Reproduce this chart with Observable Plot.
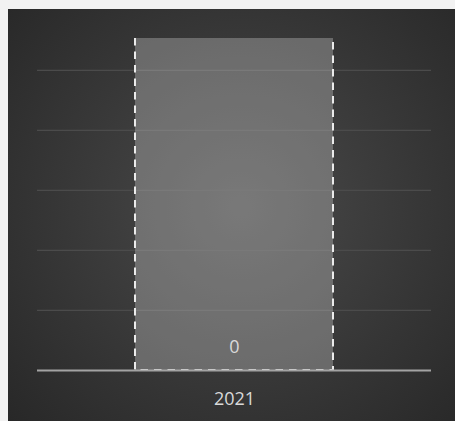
<!DOCTYPE html>
<html>
<head>
<meta charset="utf-8">
<script src="https://cdn.jsdelivr.net/npm/d3@7"></script>
<script src="https://cdn.jsdelivr.net/npm/@observablehq/plot@0.6"></script>
<style>
  html, body { margin: 0; padding: 0; background: #f2f2f2; }
  body { width: 455px; height: 421px; position: relative; overflow: hidden; }
  #panel {
    position: absolute; left: 8px; top: 9px; width: 447px; height: 412px;
    background: radial-gradient(ellipse 75% 80% at 52% 48%, #4a4a4a 0%, #3a3a3a 45%, #262626 100%);
  }
  #panel svg { display: block; background: transparent; }
</style>
</head>
<body>
<div id="panel"></div>
<script>
// Data
const categories = ["2021"];
const values = [0];              // value label shown on the bar
const barExtent = [5.53];        // displayed bar height (fills the axis)
const gridTicks = [1, 2, 3, 4, 5];
const yMax = 5.53;

const data = categories.map((c, i) => ({category: c, value: values[i], extent: barExtent[i]}));

function dashedOpenTop(index, scales, vals, dims, ctx, next) {
  const g = next(index, scales, vals, dims, ctx);
  g.querySelectorAll("rect").forEach(r => {
    const w = +r.getAttribute("width"), h = +r.getAttribute("height");
    const parts = [0, w + 4];
    let len = 0;
    while (len < 2 * h + w + 20) { parts.push(7.5, 6); len += 13.5; }
    r.setAttribute("stroke-dasharray", parts.join(" "));
  });
  return g;
}

const chart = Plot.plot({
  width: 447,
  height: 412,
  marginLeft: 29,
  marginRight: 24,
  marginTop: 29,
  marginBottom: 51,
  style: {background: "transparent", fontFamily: "'Open Sans', sans-serif"},
  x: {domain: categories, padding: 0.331, axis: null},
  y: {domain: [0, yMax], axis: null},
  marks: [
    Plot.ruleY(gridTicks, {stroke: "#4b4b4b", strokeWidth: 1.3}),
    Plot.barY(data, {
      x: "category", y: "extent",
      fill: "#ffffff", fillOpacity: 0.26,
      stroke: "#ebebeb", strokeWidth: 2,
      render: dashedOpenTop
    }),
    Plot.ruleY([0], {stroke: "#a3a3a3", strokeWidth: 2}),
    Plot.text(data, {
      x: "category", y: 0, text: d => String(d.value),
      dy: -23, fill: "#d9d9d9", fontSize: 18
    }),
    Plot.text(data, {
      x: "category", y: 0, text: "category",
      dy: 29, fill: "#d9d9d9", fontSize: 18
    })
  ]
});
document.getElementById("panel").appendChild(chart);
</script>
</body>
</html>
